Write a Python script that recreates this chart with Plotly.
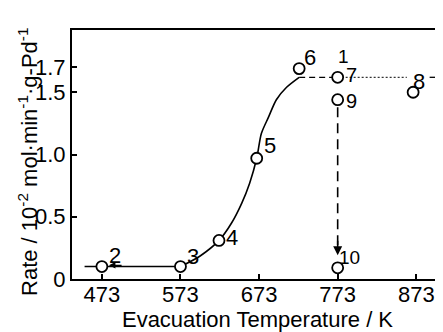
import plotly.graph_objects as go

# Data points (evacuation temperature / K, rate / 1e-2 mol min-1 g-Pd-1)
point_labels = ["2", "3", "4", "5", "6", "7", "8", "9", "10"]
point_temp = [473, 573, 622, 670, 724, 773, 869, 773, 773]
point_rate = [0.10, 0.10, 0.31, 0.97, 1.69, 1.62, 1.50, 1.44, 0.09]

# Label positions (temp, rate)
label_temp = [490, 589, 638, 687, 738, 790, 876, 791, 788]
label_rate = [0.19, 0.18, 0.33, 1.07, 1.78, 1.635, 1.59, 1.43, 0.17]

# Guide curve
flat_temp = [451, 573]
flat_rate = [0.10, 0.10]
curve_temp = [573, 598, 622, 638, 651, 661, 670, 676, 685, 695, 708, 724]
curve_rate = [0.10, 0.185, 0.31, 0.45, 0.61, 0.77, 0.97, 1.17, 1.30, 1.44, 1.54, 1.62]
plateau_rate = 1.62
plateau_temp_a = [724, 773]
plateau_temp_b = [773, 861]
plateau_temp_c = [890, 904]
drop_temp = 773
drop_rate = [1.38, 0.22]

x_ticks = [473, 573, 673, 773, 873]
y_ticks = [0, 0.5, 1.0, 1.5, 1.7]
y_tick_text = ["0", "0.5", "1.0", "1.5", "1.7"]

FONT = "Liberation Sans, Arial, sans-serif"
fig = go.Figure()

fig.add_trace(go.Scatter(x=flat_temp, y=flat_rate, mode="lines",
                         line=dict(color="black", width=1.5), hoverinfo="skip"))
fig.add_trace(go.Scatter(x=curve_temp, y=curve_rate, mode="lines",
                         line=dict(color="black", width=1.6, shape="spline", smoothing=0.8),
                         hoverinfo="skip"))
fig.add_trace(go.Scatter(x=plateau_temp_a, y=[plateau_rate] * 2, mode="lines",
                         line=dict(color="black", width=1.3, dash="6px,4px"), hoverinfo="skip"))
fig.add_trace(go.Scatter(x=plateau_temp_b, y=[plateau_rate] * 2, mode="lines",
                         line=dict(color="black", width=1.0, dash="2px,2px"), hoverinfo="skip"))
fig.add_trace(go.Scatter(x=plateau_temp_c, y=[plateau_rate] * 2, mode="lines",
                         line=dict(color="black", width=1.3), hoverinfo="skip"))
fig.add_trace(go.Scatter(x=[drop_temp] * 2, y=drop_rate, mode="lines",
                         line=dict(color="black", width=1.6, dash="10px,6px"), hoverinfo="skip"))

fig.add_trace(go.Scatter(x=point_temp, y=point_rate, mode="markers",
                         marker=dict(symbol="circle", size=11, color="white",
                                     line=dict(color="black", width=1.8)),
                         hoverinfo="skip"))

label_size = {"7": 20, "9": 20, "10": 19}
for t, r, lab in zip(label_temp, label_rate, point_labels):
    fig.add_annotation(x=t, y=r, text=lab, showarrow=False,
                       font=dict(family=FONT, size=label_size.get(lab, 22), color="black"))
fig.add_annotation(x=781, y=1.79, text="1", showarrow=False,
                   font=dict(family=FONT, size=19, color="black"))

# arrow heads
fig.add_annotation(x=drop_temp, y=0.19, ax=drop_temp, ay=0.32, axref="x", ayref="y",
                   xref="x", yref="y", text="", showarrow=True, arrowhead=2,
                   arrowsize=1.2, arrowwidth=1.5, arrowcolor="black")
fig.add_annotation(x=482, y=0.11, ax=500, ay=0.11, axref="x", ayref="y",
                   xref="x", yref="y", text="", showarrow=True, arrowhead=2,
                   arrowsize=1.0, arrowwidth=1.3, arrowcolor="black")

fig.add_annotation(xref="paper", yref="paper", x=-44 / 371, y=0.47,
                   text="Rate / 10<sup>-2</sup> mol·min<sup>-1</sup>·g-Pd<sup>-1</sup>",
                   textangle=-90, showarrow=False, xanchor="center", yanchor="middle",
                   font=dict(family=FONT, size=22, color="black"))

# page body has an 8px default margin; the layout compensates for it
fig.update_layout(
    width=435, height=324,
    margin=dict(l=64, r=0, t=22, b=53),
    paper_bgcolor="white", plot_bgcolor="white",
    showlegend=False,
    font=dict(family=FONT, size=22, color="black"),
    xaxis=dict(range=[435, 907], tickvals=x_ticks, ticks="inside", ticklen=5,
               tickcolor="black", tickwidth=1.5, showline=True, linecolor="black",
               linewidth=2, mirror=True, showgrid=False, zeroline=False,
               ticklabelstandoff=-5,
               title=dict(text="Evacuation Temperature / K", standoff=3,
                          font=dict(family=FONT, size=22)),
               tickfont=dict(family=FONT, size=22)),
    yaxis=dict(range=[0, 2.0], tickvals=y_ticks, ticktext=y_tick_text, ticks="inside",
               ticklen=5, tickcolor="black", tickwidth=1.5, showline=True,
               linecolor="black", linewidth=2, showgrid=False, zeroline=False,
               tickfont=dict(family=FONT, size=22)),
)

fig.write_html("out.html")
